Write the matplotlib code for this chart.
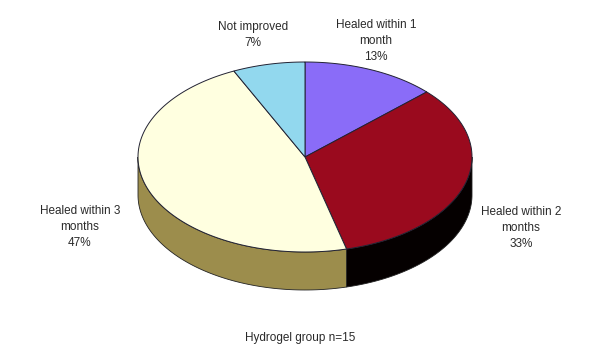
import numpy as np
import matplotlib
matplotlib.use("Agg")
import matplotlib.pyplot as plt
from matplotlib.patches import Polygon

plt.rcParams['font.family'] = ['Liberation Sans', 'DejaVu Sans']

labels = ["Healed within 1\nmonth", "Healed within 2\nmonths", "Healed within 3\nmonths", "Not improved"]
values = [13, 33, 47, 7]
top_colors = ["#8a6cf8", "#9a0a1e", "#ffffe0", "#92d8ee"]
side_colors = ["#5a45a8", "#050000", "#9c8d4c", "#5f9aa8"]
caption = "Hydrogel group n=15"

# label placement (pixels) per slice
label_pos = [(376, 41), (521, 228), (80, 227), (253, 35)]

cx, cy = 305, 157
rx, ry = 167, 95
depth = 38

fig = plt.figure(figsize=(5.92, 3.5), dpi=100)
ax = fig.add_axes([0, 0, 1, 1])
ax.set_xlim(0, 592)
ax.set_ylim(350, 0)
ax.axis("off")

def pt(t, dy=0):
    return cx + rx * np.cos(t), cy - ry * np.sin(t) + dy

fr = np.array(values, dtype=float) / sum(values)
cum = np.concatenate([[0], np.cumsum(fr)])
spans = [(np.deg2rad(90 - 360 * cum[i]), np.deg2rad(90 - 360 * cum[i + 1])) for i in range(len(values))]

# sides (front half only)
for i, (t1, t2) in enumerate(spans):
    a, b = t2, t1
    for shift in (0, -2 * np.pi, 2 * np.pi):
        lo, hi = max(a + shift, -np.pi), min(b + shift, 0)
        if hi > lo:
            t = np.linspace(lo, hi, 80)
            x, y = pt(t)
            xb, yb = pt(t[::-1], depth)
            poly = np.column_stack([np.concatenate([x, xb]), np.concatenate([y, yb])])
            ax.add_patch(Polygon(poly, closed=True, facecolor=side_colors[i],
                                 edgecolor="#222222", linewidth=0.6))

# top faces
for i, (t1, t2) in enumerate(spans):
    t = np.linspace(t1, t2, 120)
    x, y = pt(t)
    poly = np.column_stack([np.concatenate([[cx], x]), np.concatenate([[cy], y])])
    ax.add_patch(Polygon(poly, closed=True, facecolor=top_colors[i],
                         edgecolor="#222233", linewidth=0.7))

for i, lab in enumerate(labels):
    ax.text(label_pos[i][0], label_pos[i][1], f"{lab}\n{values[i]}%",
            ha="center", va="center", fontsize=8.5, color="#2a2a2a", linespacing=1.4)

ax.text(300, 338, caption, ha="center", va="center", fontsize=8.5, color="#2a2a2a")

fig.savefig("out.png", dpi=100)
